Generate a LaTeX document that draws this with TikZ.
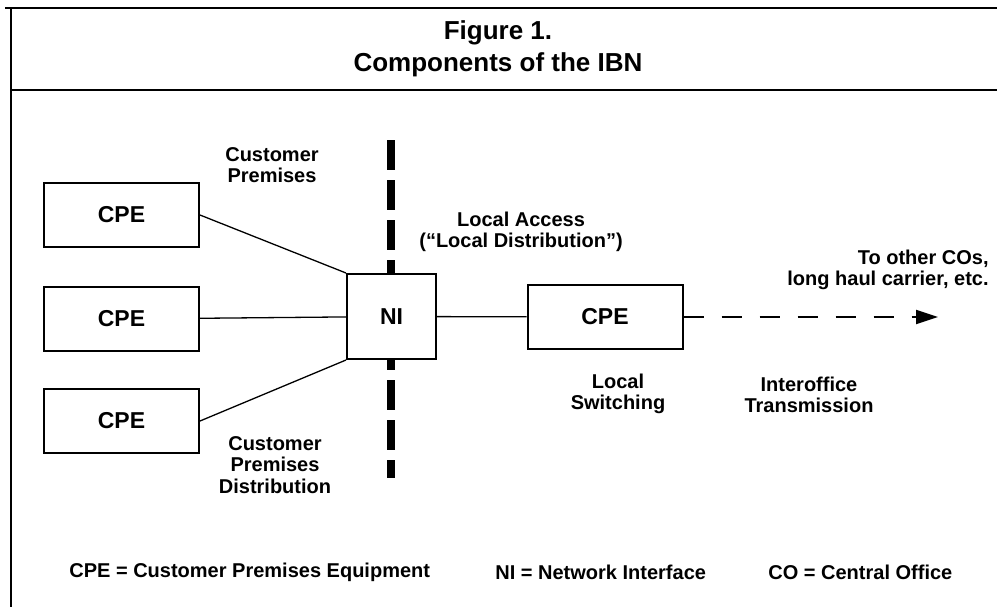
\documentclass[tikz,border=0pt]{standalone}
\usepackage{fontspec}
\setsansfont{Liberation Sans}
\usetikzlibrary{arrows.meta, positioning}
\tikzset{
  cpebox/.style={
    draw, line width=1pt, align=center,
    minimum width=77.5pt, minimum height=32pt, inner sep=0pt,
    font=\sffamily\bfseries\fontsize{11.5}{13}\selectfont, fill=white
  },
  nibox/.style={cpebox, minimum width=44.5pt, minimum height=42.5pt},
  lbl/.style={align=center, inner sep=0pt,
    font=\sffamily\bfseries\fontsize{10}{10.8}\selectfont},
  titletext/.style={align=center, inner sep=0pt,
    font=\sffamily\bfseries\fontsize{13}{16}\selectfont},
  link/.style={line width=0.65pt},
  border/.style={line width=1pt},
  divider/.style={line width=4pt, dash pattern=on 15pt off 5pt},
  trunk/.style={line width=1pt, dash pattern=on 10pt off 9pt, -{Triangle[length=11pt, width=7pt]}},
}

\begin{document}
\begin{tikzpicture}[x=0.5pt, y=-0.5pt]
  \useasboundingbox (0,0) rectangle (997,607);
  % frame and heading
  \draw[border] (5,8) -- (997,8);
  \draw[line width=0.8pt] (11,8) -- (11,607);
  \draw[border] (11,90) -- (997,90);
  \node[titletext] (title) at (498,49) {Figure 1.\\Components of the IBN};
  % premises boundary
  \draw[divider] (391,140) -- (391,478);
  % equipment
  \node[cpebox] (cpeA) at (121.5,215) {CPE};
  \node[cpebox] (cpeB) at (121.5,319) {CPE};
  \node[cpebox] (cpeC) at (121.5,421) {CPE};
  \node[nibox] (ni) at (391.5,316.5) {NI};
  \node[cpebox] (sw) at (605,317) {CPE};
  \coordinate (far) at (938,317);
  \draw[link] (cpeA.east) -- (ni.north west);
  \draw[link] (cpeB) -- (ni);
  \draw[link] (cpeC.east) -- (ni.south west);
  \draw[link] (ni) -- (sw);
  \draw[trunk] (sw) -- (far);
  % region labels
  \node[lbl] (premLbl) at (272,165) {Customer\\Premises};
  \node[lbl] (accessLbl) at (521,232) {Local Access\\(“Local Distribution”)};
  \node[lbl, align=right, anchor=east] (toLbl) at (989,270) {To other COs,\\long haul carrier, etc.};
  \node[lbl] (switchLbl) at (618,394) {Local\\Switching};
  \node[lbl] (transLbl) at (809,395) {Interoffice\\Transmission};
  \node[lbl] (distLbl) at (275,465) {Customer\\Premises\\Distribution};
  % legend
  \node[lbl, anchor=west] (legCPE) at (69,572) {CPE = Customer Premises Equipment};
  \node[lbl, anchor=west] (legNI) at (495,572) {NI = Network Interface};
  \node[lbl, anchor=west] (legCO) at (768,572) {CO = Central Office};
\end{tikzpicture}
\end{document}
